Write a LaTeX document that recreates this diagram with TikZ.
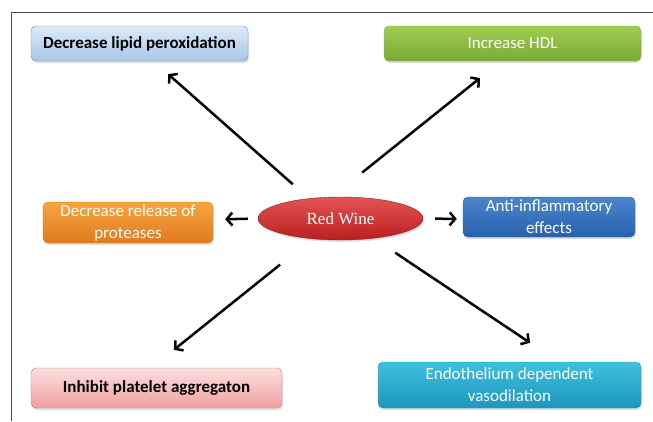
\documentclass[tikz,border=0pt]{standalone}
\usepackage{fontspec}
\setmainfont{Carlito}
\newfontfamily\winefont{Liberation Serif}
\usepackage{tikz}
\usetikzlibrary{arrows.meta,shapes.geometric,shadows}

\definecolor{lipidtop}{RGB}{222,234,248}
\definecolor{lipidbot}{RGB}{168,198,232}
\definecolor{hdltop}{RGB}{160,204,84}
\definecolor{hdlbot}{RGB}{122,170,52}
\definecolor{prottop}{RGB}{246,164,64}
\definecolor{protbot}{RGB}{226,122,32}
\definecolor{antitop}{RGB}{74,134,206}
\definecolor{antibot}{RGB}{40,96,172}
\definecolor{plattop}{RGB}{252,222,222}
\definecolor{platbot}{RGB}{240,160,160}
\definecolor{endotop}{RGB}{62,192,222}
\definecolor{endobot}{RGB}{30,150,190}
\definecolor{winetop}{RGB}{228,84,84}
\definecolor{winebot}{RGB}{186,30,32}

\tikzset{
  effect/.style={rectangle,rounded corners=5pt,inner sep=0pt,align=center,
    font=\fontsize{17}{22}\selectfont,
    drop shadow={shadow xshift=1pt,shadow yshift=-2pt,opacity=0.25}},
  darktext/.style={effect,text=black,font=\fontsize{17}{22}\selectfont\bfseries},
  lighttext/.style={effect,text=white}
}

\begin{document}
\begin{tikzpicture}[x=1pt,y=-1pt,>={Straight Barb[length=5.5pt,width=13pt]}]
    \useasboundingbox (0,0) rectangle (653,421);
    \draw[black!70,line width=0.8pt] (653,12) -- (11,12) -- (11,421);

    \node[ellipse,minimum width=165pt,minimum height=43pt,inner sep=0pt,
      top color=winetop,bottom color=winebot,draw=winebot!80!black,
      text=white,font=\winefont\fontsize{17}{20}\selectfont,
      drop shadow={shadow xshift=1pt,shadow yshift=-2pt,opacity=0.25}]
      (wine) at (340.5,218.5) {Red Wine};

    \node[darktext,minimum width=217pt,minimum height=35pt,
      top color=lipidtop,bottom color=lipidbot,draw=lipidbot!70!black]
      (lipid) at (139.5,43.5) {Decrease lipid peroxidation};
    \node[lighttext,minimum width=257pt,minimum height=35pt,
      top color=hdltop,bottom color=hdlbot,draw=hdlbot]
      (hdl) at (512.5,43.5) {Increase HDL};
    \node[lighttext,minimum width=170pt,minimum height=41pt,
      top color=prottop,bottom color=protbot,draw=protbot]
      (prot) at (128,222.5) {Decrease release of\\proteases};
    \node[lighttext,minimum width=172pt,minimum height=40pt,
      top color=antitop,bottom color=antibot,draw=antibot]
      (anti) at (549,217) {Anti-inflammatory\\effects};
    \node[darktext,minimum width=251pt,minimum height=40pt,
      top color=plattop,bottom color=platbot,draw=platbot!80!black]
      (plat) at (156.5,388) {Inhibit platelet aggregaton};
    \node[lighttext,minimum width=263pt,minimum height=46pt,
      top color=endotop,bottom color=endobot,draw=endobot]
      (endo) at (509.5,385) {Endothelium dependent\\vasodilation};

    \path[->,line width=2.5pt]
    ([xshift=-33.5pt]wine.north) edge [shorten <=19pt,shorten >=19.5pt] ([xshift=14pt]lipid.south)
    ([xshift=-8.5pt]wine.north) edge [shorten <=38.7pt,shorten >=27pt] ([xshift=-11.5pt]hdl.south)
    (wine.west) edge [shorten <=10pt,shorten >=12pt] ([yshift=3pt]prot.east)
    (wine.east) edge [shorten <=12pt,shorten >=6pt] ([yshift=-2pt]anti.west)
    ([xshift=-30pt]wine.south) edge [shorten <=39pt,shorten >=28.7pt] ([xshift=-5pt]plat.north)
    ([xshift=36pt]wine.south) edge [shorten <=22.5pt,shorten >=34.3pt] ([xshift=49pt]endo.north)
    ;
  \end{tikzpicture}
\end{document}
